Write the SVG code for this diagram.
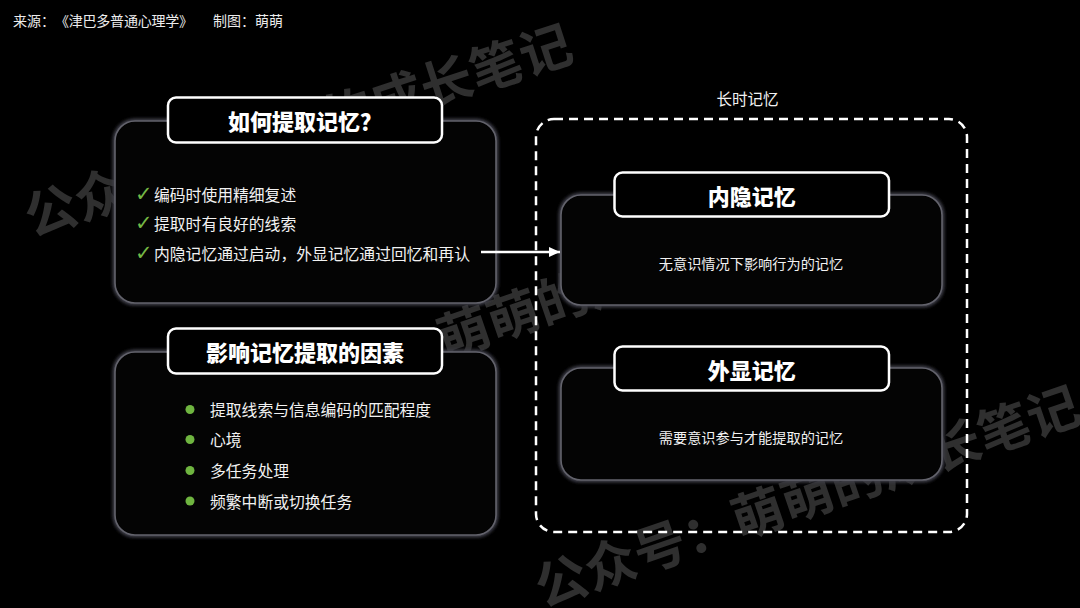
<svg xmlns="http://www.w3.org/2000/svg" width="1080" height="608" viewBox="0 0 1080 608">
  <defs>
    <style>
      .cjk { font-family: "Noto Sans CJK SC", "Noto Sans", sans-serif; }
      .wm { font-family: "Noto Sans CJK SC", sans-serif; font-size: 52px; font-weight: 700; fill: #2f2f2f; text-anchor: middle; dominant-baseline: central; }
      .src { font-family: "Noto Sans CJK SC", sans-serif; font-size: 14px; fill: #ececec; dominant-baseline: central; }
      .panel { fill: #040404; stroke: #63636c; stroke-width: 1.6; }
      .panel-glow { fill: none; stroke: #3c3c46; stroke-width: 5; filter: url(#blur); }
      .head { fill: #000; stroke: #ffffff; stroke-width: 2.5; }
      .head-t { font-family: "Noto Sans CJK SC", sans-serif; font-size: 22px; font-weight: 900; fill: #ffffff; text-anchor: middle; dominant-baseline: central; }
      .body { font-family: "Noto Sans CJK SC", sans-serif; font-size: 15.8px; fill: #f2f2f2; dominant-baseline: central; }
      .desc { font-family: "Noto Sans CJK SC", sans-serif; font-size: 14.2px; fill: #f2f2f2; text-anchor: middle; dominant-baseline: central; }
      .chk { font-family: "DejaVu Sans", sans-serif; font-size: 21px; fill: #74b845; dominant-baseline: central; }
      .dot { fill: #6fb540; }
      .conn { stroke: #ffffff; stroke-width: 2.5; fill: none; }
    </style>
    <filter id="blur" x="-10%" y="-10%" width="120%" height="120%">
      <feGaussianBlur stdDeviation="1.5"/>
    </filter>
    <marker id="arrow" viewBox="0 0 11 10" refX="11" refY="5" markerWidth="11" markerHeight="10" markerUnits="userSpaceOnUse" orient="auto">
      <path d="M0,0 L11,5 L0,10 Z" fill="#ffffff"/>
    </marker>
  </defs>

  <rect x="0" y="0" width="1080" height="608" fill="#000000"/>

  <!-- watermarks -->
  <g id="watermarks">
    <text class="wm" transform="translate(297,127) rotate(-18)">公众号：萌萌的成长笔记</text>
    <text class="wm" transform="translate(512,312) rotate(-19)">公众号：萌萌的成长笔记</text>
    <text class="wm" transform="translate(806,493) rotate(-19)">公众号：萌萌的成长笔记</text>
  </g>

  <!-- source line -->
  <g id="source">
    <text class="src" x="13" y="20">来源：</text>
    <text class="src" x="55" y="20" textLength="138" lengthAdjust="spacing">《津巴多普通心理学》</text>
    <text class="src" x="213" y="20">制图：萌萌</text>
  </g>

  <!-- long-term memory container -->
  <g id="long-term-memory">
    <rect x="536" y="119" width="431" height="413" rx="18" fill="none" stroke="#ffffff" stroke-width="2.5" stroke-dasharray="9 6"/>
    <text class="cjk" x="747.5" y="98" font-size="15.5" fill="#f2f2f2" text-anchor="middle" dominant-baseline="central">长时记忆</text>
  </g>

  <!-- how to retrieve -->
  <g id="how-to-retrieve">
    <rect class="panel-glow" x="115" y="121" width="381" height="182" rx="20"/>
    <rect class="panel" x="115" y="121" width="381" height="182" rx="20"/>
    <rect class="head" x="168" y="97.5" width="274" height="45" rx="8"/>
    <text class="head-t" x="305" y="120">如何提取记忆？</text>
    <text class="chk" x="135" y="194">✓</text>
    <text class="body" x="154" y="194">编码时使用精细复述</text>
    <text class="chk" x="135" y="223">✓</text>
    <text class="body" x="154" y="223">提取时有良好的线索</text>
    <text class="chk" x="135" y="253">✓</text>
    <text class="body" x="154" y="253">内隐记忆通过启动，外显记忆通过回忆和再认</text>
  </g>

  <!-- factors -->
  <g id="factors">
    <rect class="panel-glow" x="115" y="352" width="381" height="183" rx="20"/>
    <rect class="panel" x="115" y="352" width="381" height="183" rx="20"/>
    <rect class="head" x="168" y="328.5" width="274" height="45" rx="8"/>
    <text class="head-t" x="305" y="351">影响记忆提取的因素</text>
    <circle class="dot" cx="190" cy="409.5" r="4.5"/>
    <text class="body" x="210" y="409.5">提取线索与信息编码的匹配程度</text>
    <circle class="dot" cx="190" cy="439.5" r="4.5"/>
    <text class="body" x="210" y="439.5">心境</text>
    <circle class="dot" cx="190" cy="470.5" r="4.5"/>
    <text class="body" x="210" y="470.5">多任务处理</text>
    <circle class="dot" cx="190" cy="501" r="4.5"/>
    <text class="body" x="210" y="501">频繁中断或切换任务</text>
  </g>

  <!-- implicit memory -->
  <g id="implicit-memory">
    <rect class="panel-glow" x="561" y="195" width="381" height="110" rx="20"/>
    <rect class="panel" x="561" y="195" width="381" height="110" rx="20"/>
    <rect class="head" x="614.5" y="172.5" width="274.5" height="44" rx="8"/>
    <text class="head-t" x="751.7" y="195">内隐记忆</text>
    <text class="desc" x="751" y="263">无意识情况下影响行为的记忆</text>
  </g>

  <!-- explicit memory -->
  <g id="explicit-memory">
    <rect class="panel-glow" x="561" y="368" width="381" height="112" rx="20"/>
    <rect class="panel" x="561" y="368" width="381" height="112" rx="20"/>
    <rect class="head" x="614.5" y="346.5" width="274.5" height="44" rx="8"/>
    <text class="head-t" x="751.7" y="368.5">外显记忆</text>
    <text class="desc" x="751" y="437">需要意识参与才能提取的记忆</text>
  </g>

  <!-- connectors -->
  <g id="connectors">
    <line class="conn" x1="481" y1="252" x2="560" y2="252" marker-end="url(#arrow)"/>
  </g>
</svg>
